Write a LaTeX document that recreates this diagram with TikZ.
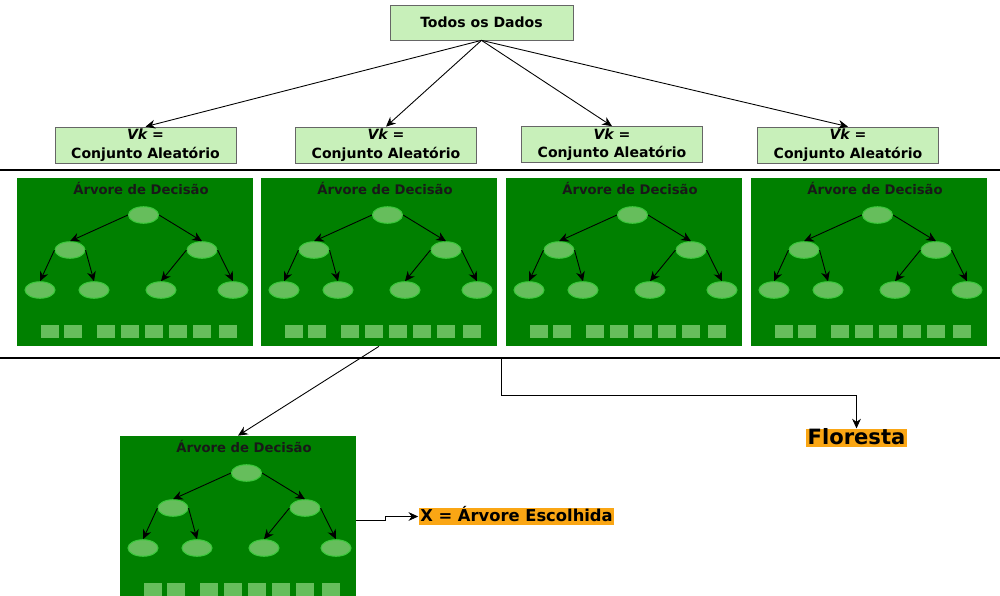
\documentclass[tikz,border=0pt]{standalone}
\usepackage{fontspec}
\setmainfont{DejaVu Sans}
\usetikzlibrary{arrows.meta, shapes.geometric}

\definecolor{verdeclaro}{RGB}{200,240,186}
\definecolor{verdeescuro}{RGB}{0,128,0}
\definecolor{verdefolha}{RGB}{102,190,92}
\definecolor{verdeborda}{RGB}{60,200,60}
\definecolor{laranja}{RGB}{250,166,20}

\begin{document}
\begin{tikzpicture}[x=0.02cm, y=-0.02cm]
  \useasboundingbox (0,0) rectangle (1000,595);
  \clip (0,0) rectangle (1000,595);

  % Estilos.
  \tikzstyle{caixa}=[draw=gray!80!black, fill=verdeclaro, inner sep=0pt, align=center,
    minimum width=3.62cm, minimum height=0.72cm, font=\bfseries\fontsize{8}{10.5}\selectfont]
  \tikzstyle{painel}=[fill=verdeescuro, inner sep=0pt, minimum width=4.72cm, minimum height=3.36cm]
  \tikzstyle{titulo}=[inner sep=0pt, text=black!90, font=\bfseries\fontsize{7.5}{9}\selectfont]
  \tikzstyle{folha}=[ellipse, draw=verdeborda, line width=0.6pt, fill=verdefolha, inner sep=0pt,
    minimum width=0.6cm, minimum height=0.33cm]
  \tikzstyle{bloco}=[fill=verdefolha, inner sep=0pt, minimum width=0.37cm, minimum height=0.27cm]
  \tikzstyle{seta}=[-{Stealth[length=5.5pt, width=5pt]}, line width=0.5pt]
  \tikzstyle{separador}=[line width=1.2pt]
  \tikzstyle{rotulo}=[fill=laranja, inner xsep=1pt, inner ysep=0pt, font=\bfseries]

  % Arvore de decisao.
  \tikzset{
    arvore/.pic={
      \node[painel] (-painel) at (118,84) {};
      \node[titulo] (-titulo) at (124,10) {Árvore de Decisão};
      \node[folha] (-raiz) at (126.5,37) {};
      \node[folha] (-a) at (53,72) {};
      \node[folha] (-b) at (185,72) {};
      \node[folha] (-aa) at (23,112) {};
      \node[folha] (-ab) at (77,112) {};
      \node[folha] (-ba) at (144,112) {};
      \node[folha] (-bb) at (216,112) {};
      \draw[seta] (-raiz.west) -- (-a.north);
      \draw[seta] (-raiz.east) -- (-b.north);
      \draw[seta] (-a.west) -- (-aa.north);
      \draw[seta] (-a.east) -- (-ab.north);
      \draw[seta] (-b.west) -- (-ba.north);
      \draw[seta] (-b.east) -- (-bb.north);
      \foreach \x [count=\i] in {33,56,89,113,137,161,185,211}
        \node[bloco] (-q\i) at (\x,153.5) {};
    }
  }

  % Dados.
  \node[caixa, minimum width=3.66cm, minimum height=0.7cm] (todos) at (481.5,22.5) {Todos os Dados};
  \node[caixa] (vk1) at (145.5,145) {\textit{Vk =}\\Conjunto Aleatório};
  \node[caixa] (vk2) at (386,145) {\textit{Vk =}\\Conjunto Aleatório};
  \node[caixa] (vk3) at (612,144.5) {\textit{Vk =}\\Conjunto Aleatório};
  \node[caixa] (vk4) at (848,145) {\textit{Vk =}\\Conjunto Aleatório};

  \draw[seta] (todos.south) -- (vk1.north);
  \draw[seta] (todos.south) -- (vk2.north);
  \draw[seta] (todos.south) -- (vk3.north);
  \draw[seta] (todos.south) -- (vk4.north);

  % Separadores.
  \coordinate (s1a) at (0,170);
  \coordinate (s1b) at (1000,170);
  \coordinate (s2a) at (0,358);
  \coordinate (s2b) at (1000,358);
  \draw[separador] (s1a) -- (s1b);
  \draw[separador] (s2a) -- (s2b);

  % Floresta.
  \pic (t1) at (17,178) {arvore};
  \pic (t2) at (261,178) {arvore};
  \pic (t3) at (506,178) {arvore};
  \pic (t4) at (751,178) {arvore};

  % Escolha.
  \pic (t5) at (120,436) {arvore};
  \draw[seta] (t2-painel.south) -- (t5-painel.north);

  \node[rotulo, font=\bfseries\fontsize{12}{14}\selectfont, text height=9pt, text depth=1.5pt]
    (floresta) at (856.5,438) {Floresta};
  \coordinate (ramo) at (501,358);
  \draw[seta] (ramo) -- ++(0,37) -| (floresta.north);

  \node[rotulo, font=\bfseries\fontsize{9.3}{11}\selectfont, text height=7.5pt, text depth=2pt]
    (escolhida) at (516.5,516.5) {X = Árvore Escolhida};
  \draw[seta] (t5-painel.east) -- ++(29,0) |- (escolhida.west);
\end{tikzpicture}
\end{document}
